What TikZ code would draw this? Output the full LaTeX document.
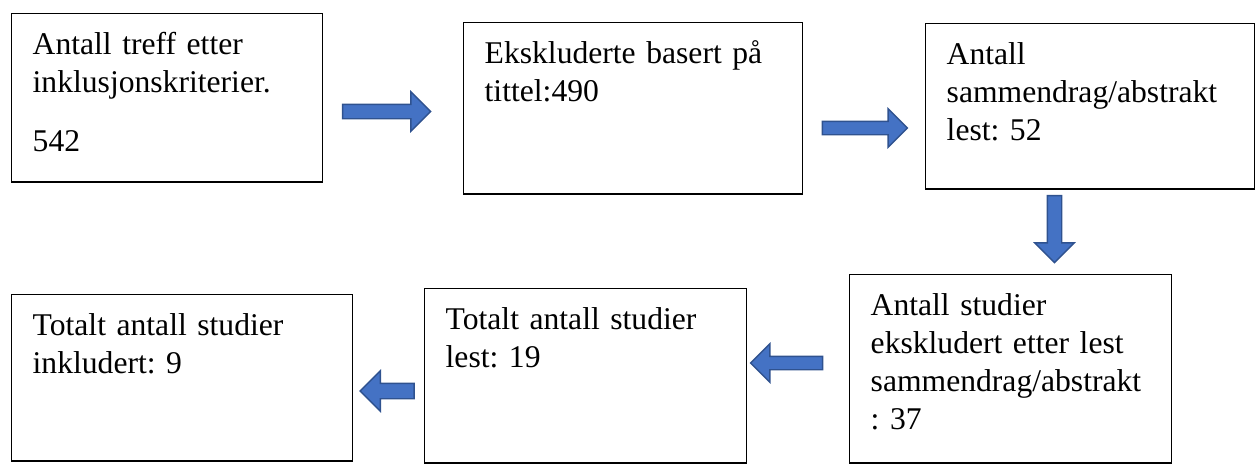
\documentclass[tikz,border=0pt]{standalone}
\usepackage{fontspec}
\setmainfont{Liberation Serif}
\frenchspacing
\usetikzlibrary{shapes.arrows}
\definecolor{arrowfill}{HTML}{4472C4}
\definecolor{arrowline}{HTML}{2F528F}
\tikzset{
	textbox/.style={draw,line width=0.8pt,anchor=north west,align=left,inner xsep=0.42cm,inner ysep=0.33cm,text height=14pt,font=\fontsize{18}{21.6}\selectfont},
	blockarrow/.style={single arrow,draw=arrowline,fill=arrowfill,line width=0.8pt,inner sep=0pt,text depth=0pt,text height=0.26cm,minimum width=0.54cm}
	}

\begin{document}
\begin{tikzpicture}[x=0.02cm,y=-0.02cm]
		\useasboundingbox (0,0) rectangle (1256,463);
		\node[textbox,text width=5.38cm,text depth=2.212cm] (treff) at (11,13) {Antall treff etter\\inklusjonskriterier.\\[12pt]542};
		\node[textbox,text width=5.94cm,text depth=2.272cm] (tittel) at (463,22) {Ekskluderte basert på\\tittel:490};
		\node[textbox,text width=5.74cm,text depth=2.152cm] (sammendrag) at (925,23) {Antall\\sammendrag/abstrakt\\lest: 52};
		\node[textbox,text width=5.60cm,text depth=2.612cm] (ekskludert) at (849,274) {Antall studier\\ekskludert etter lest\\sammendrag/abstrakt\\: 37};
		\node[textbox,text width=5.60cm,text depth=2.332cm] (lest) at (424,288) {Totalt antall studier\\lest: 19};
		\node[textbox,text width=5.98cm,text depth=2.172cm] (inkludert) at (11,294) {Totalt antall studier\\inkludert: 9};
	
		\node[blockarrow,minimum height=1.76cm] (pil1) at (383,111.5) {};
		\node[blockarrow,minimum height=1.70cm,text height=0.24cm] (pil2) at (861.5,128) {};
		\node[blockarrow,minimum height=1.34cm,minimum width=0.52cm,rotate=-90] (pil3) at (1054.5,225.5) {};
		\node[blockarrow,minimum height=1.44cm,minimum width=0.56cm,text height=0.24cm,rotate=180] (pil4) at (790,363) {};
		\node[blockarrow,minimum height=1.08cm,minimum width=0.46cm,text height=0.28cm,rotate=180] (pil5) at (391,391) {};
	\end{tikzpicture}
\end{document}
